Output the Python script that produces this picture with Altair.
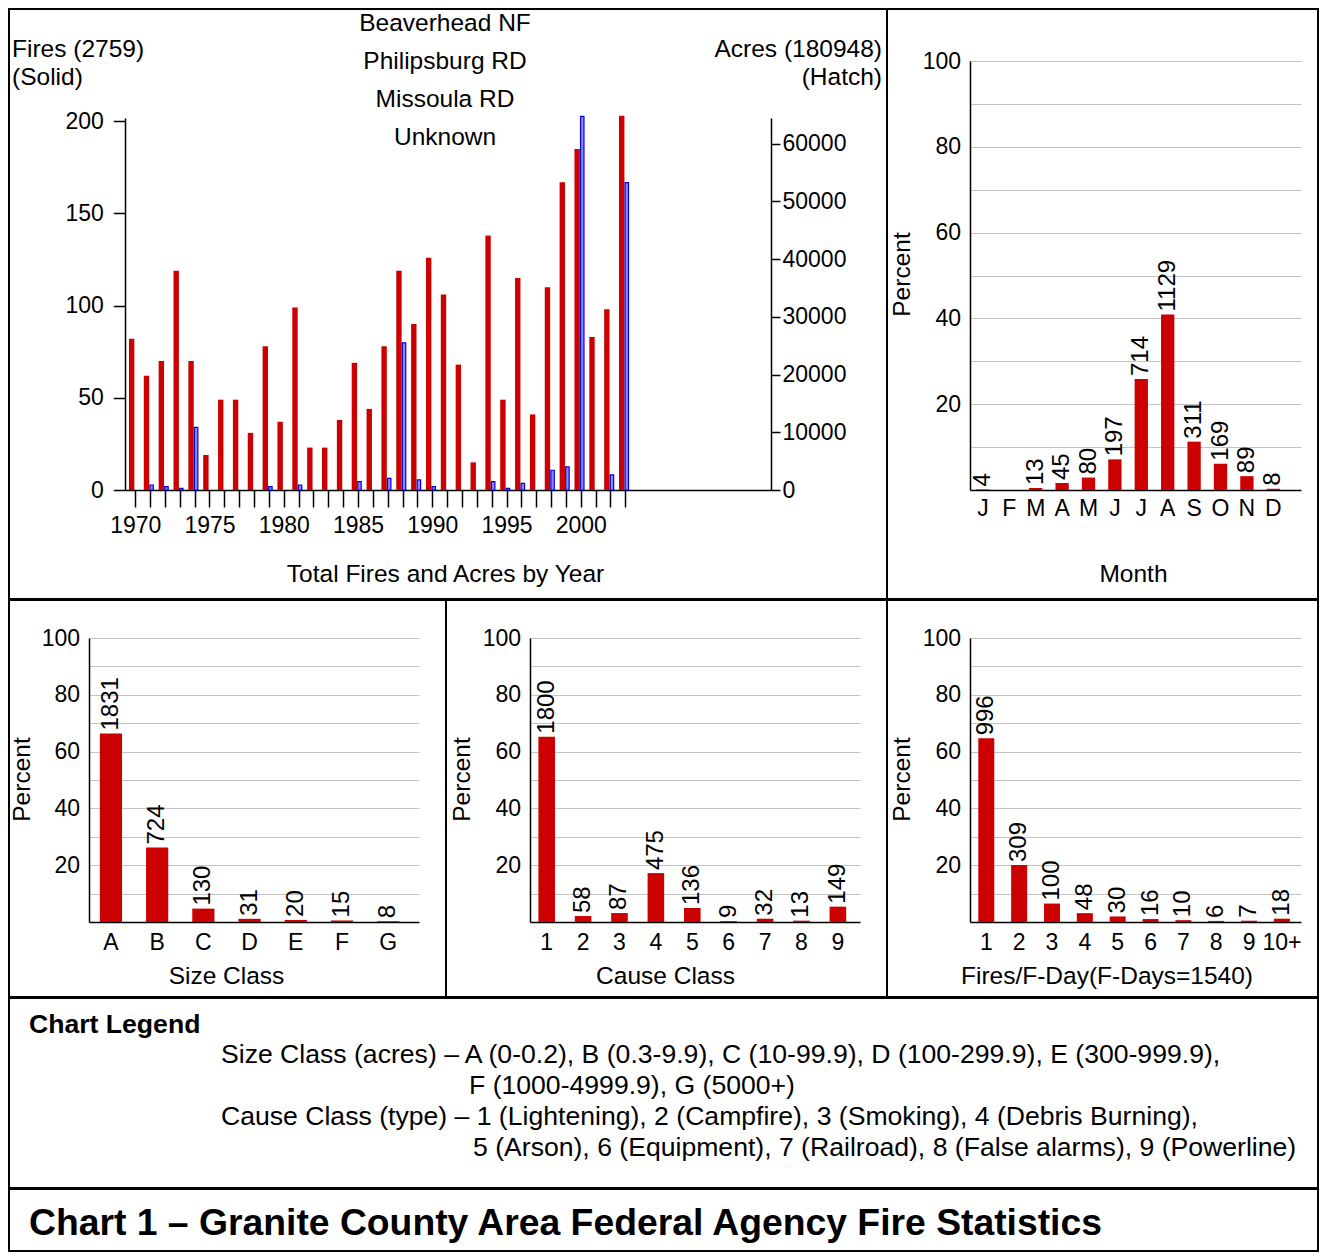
import altair as alt
import pandas as pd

RED = "#cc0000"
SANS = "Liberation Sans, Arial, sans-serif"

# ---------------- data ----------------
years = list(range(1970, 2004))
fires = [82, 62, 70, 119, 70, 19, 49, 49, 31, 78,
         37, 99, 23, 23, 38, 69, 44, 78, 119, 90,
         126, 106, 68, 15, 138, 49, 115, 41, 110, 167,
         185, 83, 98, 203]
acres = [0, 870, 580, 290, 10840, 0, 0, 0, 0, 580,
         0, 870, 0, 0, 0, 1450, 0, 2030, 25500, 1740,
         580, 0, 0, 0, 1450, 290, 1160, 0, 3420, 4000,
         64750, 0, 2610, 53280]
fire_ticks = [0, 50, 100, 150, 200]
acre_ticks = [0, 10000, 20000, 30000, 40000, 50000, 60000]

months = ["Jan", "Feb", "Mar", "Apr", "May", "Jun", "Jul", "Aug", "Sep", "Oct", "Nov", "Dec"]
month_counts = [4, 0, 13, 45, 80, 197, 714, 1129, 311, 169, 89, 8]

size_classes = ["A", "B", "C", "D", "E", "F", "G"]
size_counts = [1831, 724, 130, 31, 20, 15, 8]

cause_classes = ["1", "2", "3", "4", "5", "6", "7", "8", "9"]
cause_counts = [1800, 58, 87, 475, 136, 9, 32, 13, 149]

fday_classes = ["1", "2", "3", "4", "5", "6", "7", "8", "9", "10+"]
fday_counts = [996, 309, 100, 48, 30, 16, 10, 6, 7, 18]

pct_ticks = [10, 20, 30, 40, 50, 60, 70, 80, 90, 100]

year_headers = ["Beaverhead NF", "Philipsburg RD", "Missoula RD", "Unknown"]
fires_title = ["Fires (2759)", "(Solid)"]
acres_title = ["Acres (180948)", "(Hatch)"]

legend_head = "Chart Legend"
legend_lines = [
    "Size Class (acres) \u2013 A (0-0.2), B (0.3-9.9), C (10-99.9), D (100-299.9), E (300-999.9),",
    "F (1000-4999.9), G (5000+)",
    "Cause Class (type) \u2013 1 (Lightening), 2 (Campfire), 3 (Smoking), 4 (Debris Burning),",
    "5 (Arson), 6 (Equipment), 7 (Railroad), 8 (False alarms), 9 (Powerline)",
]
title_text = "Chart 1 \u2013 Granite County Area Federal Agency Fire Statistics"

ONE = pd.DataFrame({"k": [0]})

TICK_FS = 23
TITLE_FS = 24.5
VAL_FS = 24

AX = dict(domainColor="black", domainWidth=1.5, tickColor="black", tickWidth=1.5,
          labelColor="black", titleColor="black", labelFont=SANS, titleFont=SANS,
          titleFontWeight="normal", labelFontSize=TICK_FS, titleFontSize=TITLE_FS)


def label(s, x, y, size, align="left", weight="normal"):
    return alt.Chart(ONE).mark_text(
        text=s, align=align, baseline="middle", fontSize=size, font=SANS,
        fontWeight=weight, color="black"
    ).encode(x=alt.value(x), y=alt.value(y))


# ---------------- panel 1: fires & acres by year ----------------
yr = pd.DataFrame({"year": years, "fires": fires, "acres": acres})

x_year = alt.X(
    "year:Q",
    scale=alt.Scale(domain=[1969.31, 2012.81], range=[116, 762], nice=False, zero=False,
                    padding=0),
    axis=alt.Axis(values=years, format="d",
                  labelExpr="datum.value % 5 == 0 ? datum.label : ''",
                  labelOverlap=False, labelFlush=False,
                  tickSize=17, labelPadding=7, offset=-109, grid=False,
                  title="Total Fires and Acres by Year", titleX=436, titleY=84,
                  titleAlign="center", titleBaseline="middle", **AX),
)

red = alt.Chart(yr).mark_bar(color=RED, width=5.4, xOffset=-3.6).encode(
    x=x_year,
    y=alt.Y("fires:Q",
            scale=alt.Scale(domain=[0, 201.8], range=[481, 109], nice=False, padding=0),
            axis=alt.Axis(orient="left", values=fire_ticks, offset=-116, tickSize=11.7,
                          labelPadding=10, grid=False, title=None, **AX)),
)

blue = alt.Chart(yr).transform_filter("datum.acres > 0").mark_bar(
    fill="#8c8cff", stroke="#0000dd", strokeWidth=1.2, width=3.4, xOffset=1.5
).encode(
    x=x_year,
    y=alt.Y("acres:Q",
            scale=alt.Scale(domain=[0, 64470], range=[481, 109], nice=False, padding=0),
            axis=alt.Axis(orient="right", values=acre_ticks, format="d", offset=-116,
                          tickSize=9, labelPadding=2, grid=False, title=None, **AX)),
)

p1_text = [label(s, 436, 15 + 38 * i, TITLE_FS, align="center") for i, s in enumerate(year_headers)]
p1_text += [label(fires_title[0], 3, 41, TITLE_FS), label(fires_title[1], 3, 69, TITLE_FS)]
p1_text += [label(acres_title[0], 873, 41, TITLE_FS, align="right"),
            label(acres_title[1], 873, 69, TITLE_FS, align="right")]

p1 = alt.layer(red, blue, *p1_text).resolve_scale(y="independent").properties(width=878, height=590)


# ---------------- percent panels ----------------
def pct_panel(cats, counts, xtitle, w, h, xr, yr_, pi, po, al, xoff, yoff, xt, pt,
              label_expr=None, lpad_x=9):
    df = pd.DataFrame({"cat": cats, "count": counts})
    base = alt.Chart(df).transform_joinaggregate(total="sum(count)").transform_calculate(
        pct="datum.count / datum.total * 100")
    xax = dict(ticks=False, tickSize=0, labelAngle=0, labelPadding=lpad_x, offset=xoff,
               title=xtitle, titleX=xt[0], titleY=xt[1], titleAlign="center",
               titleBaseline="middle", grid=False, **AX)
    if label_expr:
        xax["labelExpr"] = label_expr
    x = alt.X("cat:N", sort=cats,
              scale=alt.Scale(domain=cats, range=xr, paddingInner=pi, paddingOuter=po, align=al),
              axis=alt.Axis(**xax))
    y = alt.Y("pct:Q",
              scale=alt.Scale(domain=[0, 100], range=yr_, nice=False, padding=0),
              axis=alt.Axis(values=pct_ticks,
                            labelExpr="datum.value % 20 == 0 ? datum.label : ''",
                            ticks=False, tickSize=0, labelPadding=9.5, offset=yoff,
                            grid=True, gridColor="#c4c4c4", gridWidth=1.2,
                            title="Percent", titleX=pt[0], titleY=pt[1], titleAngle=270,
                            titleAlign="center", titleBaseline="middle", **AX))
    bars = base.mark_bar(color=RED).encode(x=x, y=y)
    txt = base.transform_filter("datum.count > 0").mark_text(
        angle=270, align="left", baseline="middle", dx=3, fontSize=VAL_FS, font=SANS,
        color="black").encode(x=x, y=y, text="count:Q")
    return alt.layer(bars, txt).properties(width=w, height=h)


p2 = pct_panel(months, month_counts, "Month", 431, 590, [83, 414], [481, 52],
               0.496, 0.517, 0.229, -109, -83, (246, 84), (-68, 265),
               label_expr="substring(datum.label, 0, 1)", lpad_x=7)
p3 = pct_panel(size_classes, size_counts, "Size Class", 437, 397, [80, 410], [322, 38],
               0.52, 0.331, 0.355, -75, -80, (217, 54), (-67, 179))
p4 = pct_panel(cause_classes, cause_counts, "Cause Class", 441, 397, [84, 414], [322, 38],
               0.544, 0.305, 0.378, -75, -84, (219, 54), (-68, 179))
p5 = pct_panel(fday_classes, fday_counts, "Fires/F-Day(F-Days=1540)", 431, 397, [83, 414],
               [322, 38], 0.513, 0.2945, 0.428, -75, -83, (219.5, 54), (-68, 179))

# ---------------- legend & title panels ----------------
p6 = alt.layer(
    label(legend_head, 20, 27, 26.6, weight="bold"),
    label(legend_lines[0], 212, 57, 26.6),
    label(legend_lines[1], 460, 88, 26.6),
    label(legend_lines[2], 212, 119, 26.6),
    label(legend_lines[3], 464, 150, 26.6),
).properties(width=1309, height=190)

p7 = alt.layer(
    label(title_text, 20, 35, 37.3, weight="bold"),
).properties(width=1309, height=62)

row1 = alt.hconcat(p1, p2, spacing=0, bounds="flush")
row2 = alt.hconcat(p3, p4, p5, spacing=0, bounds="flush")

chart = alt.vconcat(row1, row2, p6, p7, spacing=-2, bounds="full", padding=0).configure_view(
    stroke="black", strokeWidth=2, fill="white")

chart.save("out.html", embed_options={"renderer": "svg", "actions": False})
